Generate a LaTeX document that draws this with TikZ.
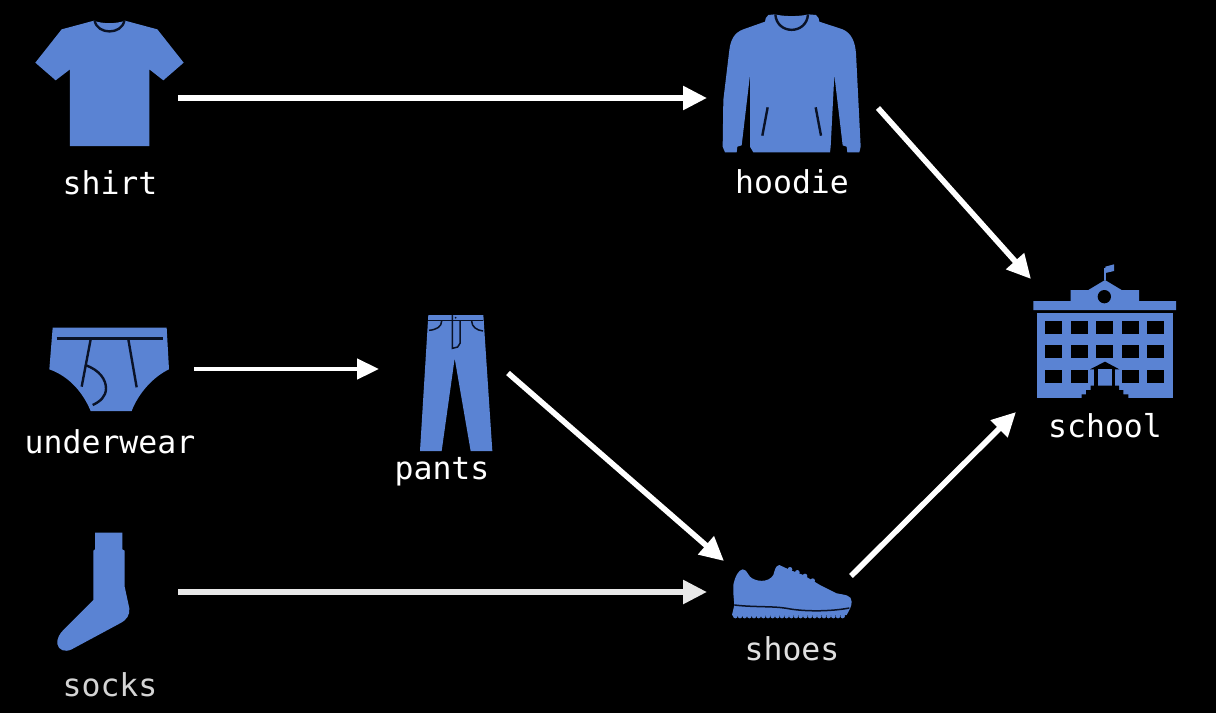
\documentclass[tikz,border=0pt]{standalone}
\usepackage{fontspec}
\setmonofont{DejaVu Sans Mono}
\usepackage{tikz}
\usetikzlibrary{arrows.meta,positioning}
\definecolor{iconblue}{HTML}{5A83D3}
\definecolor{inkdark}{HTML}{0A1226}
\tikzstyle{arrow} = [white, line width=5.6pt, -{Triangle[length=24pt,width=23pt]}]
\tikzstyle{arrowfaded} = [arrow, color=white!91!black]
\tikzstyle{item} = [inner sep=0pt, outer sep=0pt]
\tikzstyle{caption} = [white, anchor=base, inner sep=0pt, font=\ttfamily\fontsize{31.5}{36}\selectfont]
\tikzstyle{icon} = [fill=iconblue]
\tikzstyle{ink} = [draw=inkdark, line width=2.4pt]
\tikzstyle{thinink} = [draw=inkdark, line width=1.5pt]

\begin{document}
\begin{tikzpicture}[x=1pt,y=-1pt]
\useasboundingbox (0,0) rectangle (1216,713);
\fill[black] (0,0) rectangle (1216,713);

% shirt
\begin{scope}[shift={(20,0)},scale=1/3]
\fill[icon] (222,62) -- (125,88) -- (46,188) -- (107,241) -- (150,208) -- (150,438)
  -- (388,438) -- (388,208) -- (430,241) -- (491,188) -- (412,88) -- (315,62)
  .. controls (290,72) and (245,72) .. cycle;
\draw[ink] (224,62) .. controls (232,105) and (305,105) .. (313,62);
\end{scope}

% hoodie
\begin{scope}[shift={(700,0)},scale=1/3]
\fill[icon] (225,43) -- (205,45) .. controls (198,50) and (195,58) .. (195,65)
  -- (130,88) .. controls (102,98) and (92,120) .. (88,150)
  -- (70,300) -- (68,440) -- (75,457) -- (110,457) -- (112,440) -- (125,436) -- (150,225)
  -- (150,440) -- (160,457) -- (390,457) -- (392,440) -- (403,225) -- (428,436) -- (440,440)
  -- (442,457) -- (478,457) -- (482,440) -- (468,160) .. controls (465,125) and (455,100) .. (428,88)
  -- (358,65) .. controls (358,58) and (355,50) .. (348,45) -- (325,43)
  .. controls (300,50) and (250,50) .. cycle;
\draw[ink] (226,43) .. controls (230,105) and (320,105) .. (324,43);
\draw[ink] (203,322) -- (187,407);
\draw[ink] (347,322) -- (363,407);
\end{scope}

% school
\begin{scope}[shift={(1020,255)},scale=1/3]
\fill[icon] (40,138) -- (152,138) -- (152,105) -- (205,105) -- (255,75) -- (305,105) -- (357,105)
  -- (357,138) -- (468,138) -- (468,165) -- (40,165) -- cycle;
\fill[icon] (50,173) rectangle (460,430);
\fill[black] (253,125) circle (20);
\draw[draw=iconblue, line width=1.4pt] (255,75) -- (255,40);
\fill[icon] (256,35) -- (282,28) -- (282,48) -- (256,54) -- cycle;
\foreach \colx in {75,152,229,305,382} {
  \fill[black] (\colx,198) rectangle +(51,39);
  \fill[black] (\colx,270) rectangle +(51,40);
}
\foreach \colx in {75,152,305,382}
  \fill[black] (\colx,345) rectangle +(51,38);
\fill[black] (210,343) -- (255,320) -- (298,343) -- cycle;
\fill[iconblue] (222,343) rectangle (285,395);
\fill[black] (222,343) rectangle (233,395);
\fill[black] (275,343) rectangle (285,395);
\fill[black] (212,392) -- (212,405) -- (198,405) -- (198,418) -- (185,418) -- (185,432) -- (325,432)
  -- (325,418) -- (310,418) -- (310,405) -- (297,405) -- (297,392) -- cycle;
\end{scope}

% underwear
\begin{scope}[shift={(20,310)},scale=1/3]
\fill[icon] (98,53) -- (440,53) -- (447,178) .. controls (400,200) and (355,250) .. (335,303)
  -- (212,303) .. controls (190,250) and (150,200) .. (88,178) -- cycle;
\draw[ink, line width=3pt] (110,85) -- (428,85);
\draw[ink] (212,88) -- (185,230);
\draw[ink] (325,88) -- (350,232);
\draw[ink] (195,165) .. controls (240,180) and (258,210) .. (258,235)
  .. controls (258,260) and (240,275) .. (218,285);
\end{scope}

% pants
\begin{scope}[shift={(390,305)},scale=1/3]
\fill[icon] (115,30) -- (280,30) -- (307,438) -- (242,438) -- (194,160) -- (155,438) -- (90,438) -- cycle;
\draw[thinink] (115,47) -- (280,47);
\draw[thinink] (187,30) -- (187,130) -- (203,126) -- (210,115) -- (210,47);
\draw[thinink] (117,76) .. controls (140,74) and (155,65) .. (155,48);
\draw[thinink] (245,48) .. controls (245,65) and (260,76) .. (279,78);
\fill[inkdark] (197,38) circle (3);
\end{scope}

% socks
\begin{scope}[shift={(40,520)},scale=1/3]
\fill[icon] (165,38) -- (247,38) -- (247,88) -- (254,92) -- (254,200) -- (268,265)
  .. controls (270,285) and (260,300) .. (240,310) -- (95,388)
  .. controls (75,398) and (55,390) .. (52,372) .. controls (50,355) and (60,340) .. (70,330)
  -- (160,240) -- (160,92) -- (165,88) -- cycle;
\end{scope}

% shoes
\begin{scope}[shift={(690,530)},scale=1/3]
\fill[icon] (130,165) .. controls (135,140) and (145,120) .. (158,118) .. controls (170,120) and (172,130) .. (180,140)
  .. controls (195,155) and (235,160) .. (250,135) .. controls (255,120) and (255,108) .. (268,105)
  -- (300,120) -- (340,135) -- (390,165) -- (440,190) .. controls (465,195) and (485,195) .. (485,215)
  .. controls (485,230) and (478,240) .. (470,255) -- (130,258) -- (126,255) -- (133,225) -- (130,190) -- cycle;
\foreach \solex in {136,150,...,466}
  \fill[icon] (\solex,258) circle (7);
\foreach \solex/\soley in {300/118,322/127,345/138,368/152}
  \fill[icon] (\solex,\soley) circle (7);
\draw[thinink] (133,225) .. controls (190,232) and (250,228) .. (290,235)
  .. controls (340,245) and (420,245) .. (478,234);
\end{scope}

\node[item, minimum width=136pt, minimum height=100pt] (shirt) at (110,98) {};
\node[item, minimum width=171pt, minimum height=100pt] (hoodie) at (792.5,98) {};
\node[item, minimum width=168pt, minimum height=60pt] (underwear) at (110,369) {};
\node[item, minimum width=129pt, minimum height=100pt] (pants) at (443.5,369) {};
\node[item, minimum width=136pt, minimum height=60pt] (socks) at (110,592) {};
\node[item, minimum width=170pt, minimum height=62pt] (shoes) at (792,592) {};
\node[item, minimum width=178pt, minimum height=133pt] (school) at (1105,345.5) {};

\node[caption] (shirtname) at (110,194) {shirt};
\node[caption] (hoodiename) at (792,193) {hoodie};
\node[caption] (underwearname) at (110,453) {underwear};
\node[caption] (pantsname) at (442,479) {pants};
\node[caption, color=white!83!black] (socksname) at (110,696) {socks};
\node[caption, color=white!88!black] (shoesname) at (792,660) {shoes};
\node[caption] (schoolname) at (1105,437) {school};

\draw[arrow] (shirt.east) -- (hoodie.west);
\draw[arrow] ([yshift=-10pt]hoodie.east) -- ([xshift=15pt]school.north west);
\draw[arrow, line width=4.6pt, -{Triangle[length=22pt,width=20pt]}] (underwear.east) -- (pants.west);
\draw[arrow] ([yshift=-4pt]pants.east) -- ([xshift=17pt]shoes.north west);
\draw[arrowfaded] (socks.east) -- (shoes.west);
\draw[arrow] ([xshift=-26pt,yshift=-15pt]shoes.north east) -- (school.south west);
\end{tikzpicture}
\end{document}
